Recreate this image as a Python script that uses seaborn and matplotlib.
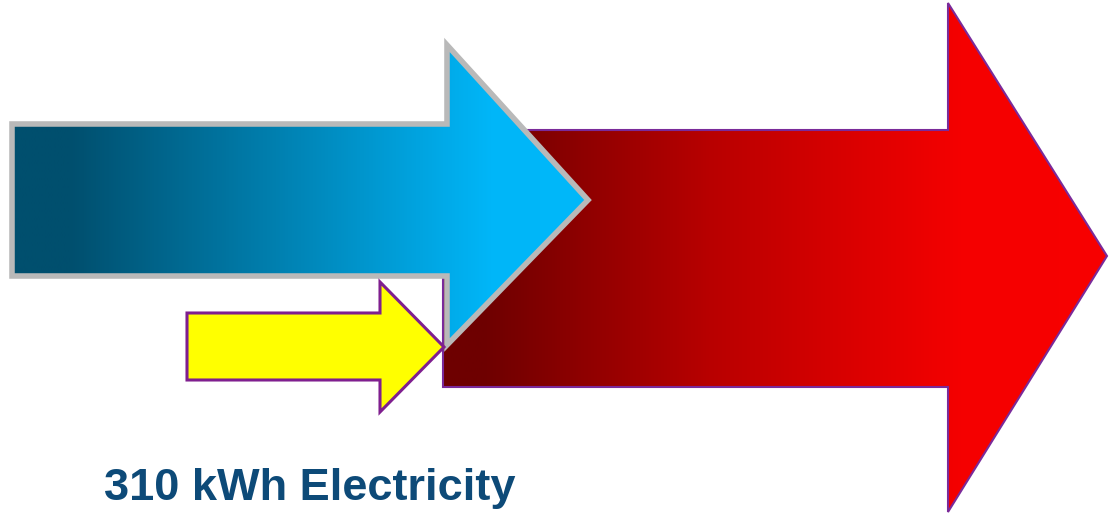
import numpy as np
import matplotlib
matplotlib.use("Agg")
import matplotlib.pyplot as plt
from matplotlib.patches import Polygon
from matplotlib.colors import LinearSegmentedColormap
import seaborn as sns

# ---- data: energy-flow arrows (name, shaft thickness in px-units) ----
flow_names = ["Heat input", "Electricity", "Output"]
flow_thickness = [152, 67, 257]
label_text = "310 kWh Electricity"

sns.set_theme(style="white")
plt.rcParams['font.family'] = ['Liberation Sans', 'DejaVu Sans']

W, H = 1109, 514
fig = plt.figure(figsize=(W / 100, H / 100), dpi=100)
ax = fig.add_axes([0, 0, 1, 1])
ax.set_xlim(0, W)
ax.set_ylim(H, 0)
ax.axis('off')


def arrow_pts(x0, xb, xt, yc, thick, head_top, head_bot, tip_y):
    h = thick / 2
    return [(x0, yc - h), (xb, yc - h), (xb, head_top), (xt, tip_y),
            (xb, head_bot), (xb, yc + h), (x0, yc + h)]


def grad_arrow(pts, colors, stops, x_ext, edge, lw, z):
    poly = Polygon(pts, closed=True, facecolor='none', edgecolor=edge,
                   linewidth=lw, zorder=z + 0.1, joinstyle='miter')
    clip = Polygon(pts, closed=True, facecolor='none', edgecolor='none')
    ax.add_patch(clip)
    cmap = LinearSegmentedColormap.from_list('g', list(zip(stops, colors)))
    grad = np.linspace(0, 1, 512).reshape(1, -1)
    im = ax.imshow(grad, cmap=cmap, extent=[x_ext[0], x_ext[1], H, 0],
                   aspect='auto', zorder=z, interpolation='bilinear')
    im.set_clip_path(clip)
    ax.add_patch(poly)


# Output (red) arrow, behind
red_pts = arrow_pts(443, 948, 1107, 258.5, flow_thickness[2], 3, 512, 256)
grad_arrow(red_pts, ['#6e0000', '#6e0000', '#b80000', '#f50000', '#f80000'],
           [0.0, 0.06, 0.4, 0.78, 1.0], (443, 1109), '#7a2a9a', 1.5, 1)

# Heat input (blue) arrow
blue_pts = arrow_pts(12, 447, 588, 200, flow_thickness[0], 45, 345, 200)
grad_arrow(blue_pts, ['#004f6e', '#004f6e', '#0086b8', '#00b6f8', '#00b8fa'],
           [0.0, 0.1, 0.5, 0.83, 1.0], (12, 590), '#b9b9b9', 4, 3)

# Electricity (yellow) arrow
yel_pts = arrow_pts(187, 380, 444, 346.5, flow_thickness[1], 282, 412, 347)
ax.add_patch(Polygon(yel_pts, closed=True, facecolor='#ffff00',
                     edgecolor='#7f1f8f', linewidth=2.2, zorder=5,
                     joinstyle='miter'))

ax.text(104, 468, label_text, fontsize=32.5, fontweight='bold',
        color='#0d4a78', ha='left', va='top', zorder=6)

fig.savefig('out.png', dpi=100)
